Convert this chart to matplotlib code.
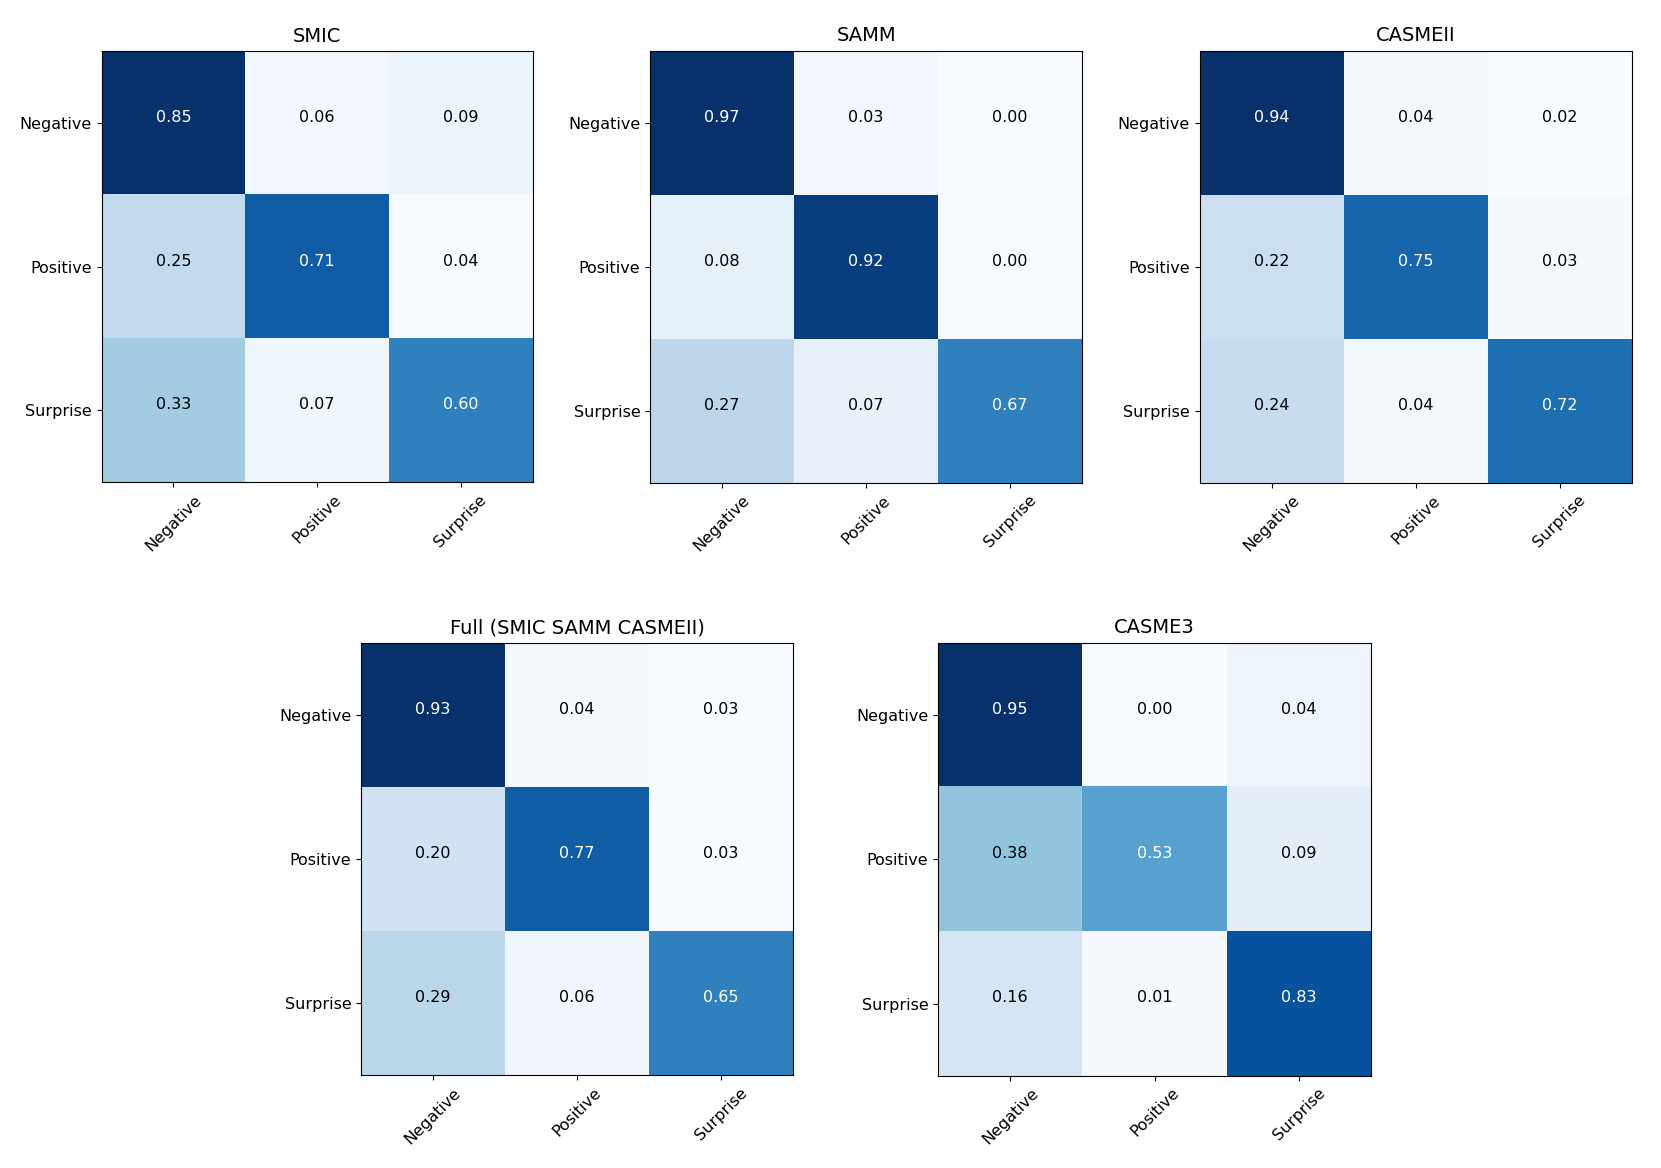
import matplotlib
matplotlib.use("Agg")
import matplotlib.pyplot as plt
import numpy as np

CLASSES = ["Negative", "Positive", "Surprise"]

TITLES = ["SMIC", "SAMM", "CASMEII", "Full (SMIC SAMM CASMEII)", "CASME3"]

smic = [[0.85, 0.06, 0.09],
        [0.25, 0.71, 0.04],
        [0.33, 0.07, 0.60]]
samm = [[0.97, 0.03, 0.00],
        [0.08, 0.92, 0.00],
        [0.27, 0.07, 0.67]]
casmeii = [[0.94, 0.04, 0.02],
           [0.22, 0.75, 0.03],
           [0.24, 0.04, 0.72]]
full = [[0.93, 0.04, 0.03],
        [0.20, 0.77, 0.03],
        [0.29, 0.06, 0.65]]
casme3 = [[0.95, 0.00, 0.04],
          [0.38, 0.53, 0.09],
          [0.16, 0.01, 0.83]]

MATRICES = [smic, samm, casmeii, full, casme3]

W, H = 1661, 1168
S = 1 / 0.9445  # boxes measured on a scaled-down view
# axes boxes: left, top, right, bottom
BOXES = [(96, 47, 503, 457), (614, 47, 1022, 457), (1133, 47, 1541, 457),
         (341, 607, 749, 1016), (886, 607, 1295, 1016)]

fig = plt.figure(figsize=(W / 100, H / 100), dpi=100)

for title, cm, box in zip(TITLES, MATRICES, BOXES):
    l, t, r, b = [v * S for v in box]
    cm = np.array(cm)
    ax = fig.add_axes([l / W, 1 - b / H, (r - l) / W, (b - t) / H])
    ax.imshow(cm, cmap="Blues", interpolation="nearest")
    thresh = cm.max() / 2
    for i in range(cm.shape[0]):
        for j in range(cm.shape[1]):
            ax.text(j, i - 0.04, f"{cm[i, j]:.2f}", ha="center", va="center",
                    color="white" if cm[i, j] > thresh else "black", fontsize=11.5)
    ax.set_xticks(range(len(CLASSES)))
    ax.set_yticks(range(len(CLASSES)))
    ax.set_xticklabels(CLASSES, rotation=45, fontsize=11.5)
    ax.set_yticklabels(CLASSES, fontsize=11.5)
    ax.set_title(title, fontsize=14, pad=7)

fig.savefig("out.png", dpi=100)
